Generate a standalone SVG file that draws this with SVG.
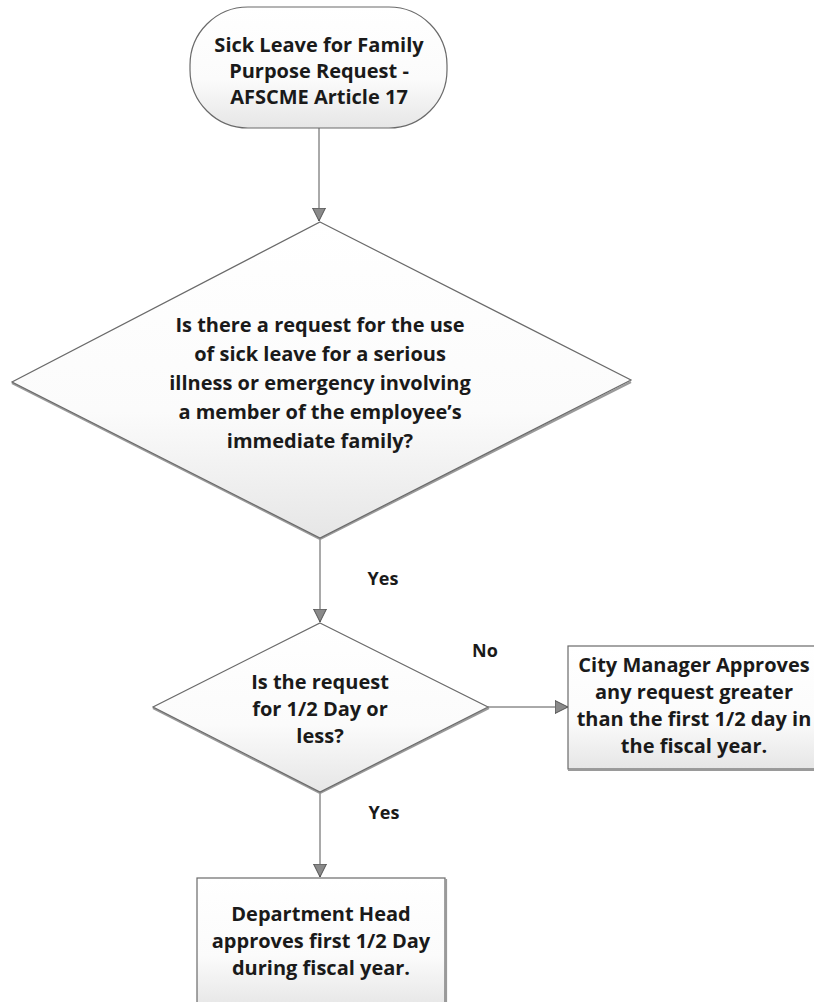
<svg xmlns="http://www.w3.org/2000/svg" width="814" height="1002" viewBox="0 0 814 1002">
<style>
  .shape { stroke: #6a6a6a; stroke-width: 1.2; }
  .shadow { fill: none; stroke: #9a9a9a; stroke-width: 2.2; }
  .t { font-family: "Open Sans", "Noto Sans", sans-serif; font-weight: bold; font-size: 20px; fill: #1a1a1a; text-anchor: middle; dominant-baseline: central; }
  .lbl { font-family: "Open Sans", "Noto Sans", sans-serif; font-weight: bold; font-size: 18px; fill: #1a1a1a; text-anchor: middle; dominant-baseline: central; }
  .conn { stroke: #555; stroke-width: 1; fill: none; }
</style>
<defs>
  <linearGradient id="g" x1="0" y1="0" x2="0" y2="1">
    <stop offset="0" stop-color="#ffffff"/>
    <stop offset="0.6" stop-color="#fbfbfb"/>
    <stop offset="1" stop-color="#e6e6e6"/>
  </linearGradient>
  <marker id="arr" markerWidth="13" markerHeight="16" refX="12" refY="6" orient="auto" markerUnits="userSpaceOnUse" viewBox="0 0 12 12">
    <path d="M0,0 L12,6 L0,12 Z" fill="#8a8a8a" stroke="#444" stroke-width="0.8"/>
  </marker>
</defs>
<rect width="814" height="1002" fill="#ffffff"/>

<g id="connectors">
  <line class="conn" x1="319" y1="128" x2="319" y2="221" marker-end="url(#arr)"/>
  <line class="conn" x1="320" y1="538" x2="320" y2="622" marker-end="url(#arr)"/>
  <line class="conn" x1="488" y1="707" x2="568" y2="707" marker-end="url(#arr)"/>
  <line class="conn" x1="320" y1="792" x2="320" y2="877" marker-end="url(#arr)"/>
  <text class="lbl" x="383" y="578">Yes</text>
  <text class="lbl" x="485" y="650">No</text>
  <text class="lbl" x="384" y="812">Yes</text>
</g>

<g id="start">
  <rect class="shape" x="190" y="7" width="257" height="121" rx="58" fill="url(#g)"/>
  <text class="t" x="319" y="44">Sick Leave for Family</text>
  <text class="t" x="319" y="70">Purpose Request -</text>
  <text class="t" x="319" y="96">AFSCME Article 17</text>
</g>

<g id="decision1">
  <polyline class="shadow" points="12,383 320,539 631,382"/>
  <polygon class="shape" points="320,222 631,380 320,538 12,382" fill="url(#g)"/>
  <text class="t" x="320" y="324">Is there a request for the use</text>
  <text class="t" x="320" y="353">of sick leave for a serious</text>
  <text class="t" x="320" y="382">illness or emergency involving</text>
  <text class="t" x="320" y="411">a member of the employee’s</text>
  <text class="t" x="320" y="440">immediate family?</text>
</g>

<g id="decision2">
  <polyline class="shadow" points="153,708 320,793 489,708"/>
  <polygon class="shape" points="320,623 488,707 320,792 153,707" fill="url(#g)"/>
  <text class="t" x="320" y="681">Is the request</text>
  <text class="t" x="320" y="708">for 1/2 Day or</text>
  <text class="t" x="320" y="735">less?</text>
</g>

<g id="cityManager">
  <rect class="shape" x="568" y="646" width="253" height="123" fill="url(#g)"/>
  <line class="shadow" x1="568" y1="770" x2="814" y2="770"/>
  <text class="t" x="694" y="664">City Manager Approves</text>
  <text class="t" x="694" y="691">any request greater</text>
  <text class="t" x="694" y="718">than the first 1/2 day in</text>
  <text class="t" x="694" y="745">the fiscal year.</text>
</g>

<g id="deptHead">
  <rect class="shape" x="197" y="878" width="248" height="130" fill="url(#g)"/>
  <line class="shadow" x1="446" y1="879" x2="446" y2="1002"/>
  <text class="t" x="321" y="913">Department Head</text>
  <text class="t" x="321" y="940">approves first 1/2 Day</text>
  <text class="t" x="321" y="967">during fiscal year.</text>
</g>
</svg>
